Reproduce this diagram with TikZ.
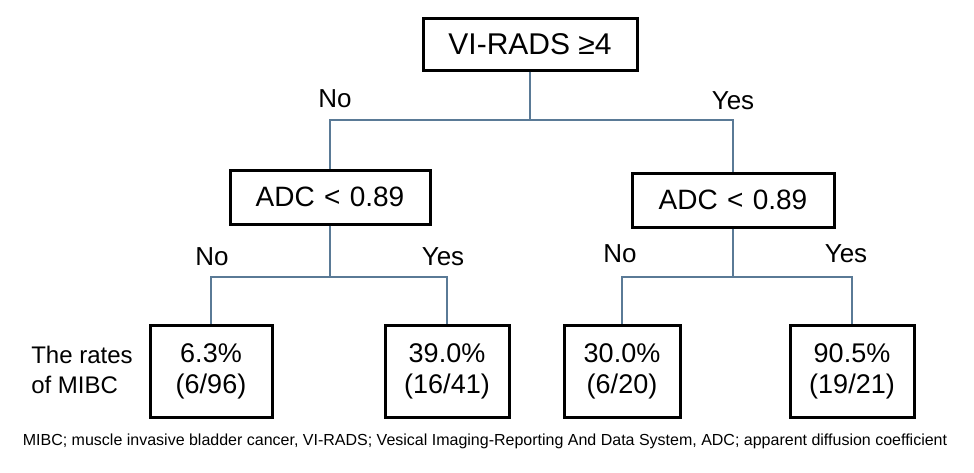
\documentclass[tikz,border=0pt]{standalone}
\usepackage{fontspec}
\setmainfont{Liberation Sans}
\begin{document}
\begin{tikzpicture}[x=1pt,y=-1pt,
  boxn/.style={draw=black,line width=3pt,inner sep=0pt,fill=white,align=center,font=\fontsize{27}{31}\selectfont},
  conn/.style={draw={rgb,255:red,90;green,122;blue,150},line width=1.8pt},
  lab/.style={font=\fontsize{26}{30}\selectfont}]
\useasboundingbox (0,0) rectangle (974,472);
\node[boxn,minimum width=214pt,minimum height=52pt,font=\fontsize{30}{34}\selectfont] (top) at (530,44) {VI-RADS ≥4};
\node[boxn,minimum width=200pt,minimum height=54pt,font=\fontsize{28}{32}\selectfont] (l) at (330,197) {ADC\,\,<\,\,0.89};
\node[boxn,minimum width=202pt,minimum height=54pt,font=\fontsize{28}{32}\selectfont] (r) at (733,200) {ADC\,\,<\,\,0.89};
\node[boxn,minimum width=122pt,minimum height=92pt] (b1) at (211,371) {6.3\%\\(6/96)};
\node[boxn,minimum width=124pt,minimum height=92pt] (b2) at (447,371) {39.0\%\\(16/41)};
\node[boxn,minimum width=116pt,minimum height=92pt] (b3) at (622,371) {30.0\%\\(6/20)};
\node[boxn,minimum width=124pt,minimum height=92pt] (b4) at (852,371) {90.5\%\\(19/21)};
\coordinate (j0) at (530,120);
\coordinate (j1) at (330,277);
\coordinate (j2) at (733,277);
\draw[conn] (top.south) -- (j0);
\draw[conn] (l.north) -- (330,120) -- (733,120) -- (r.north);
\draw[conn] (l.south) -- (j1);
\draw[conn] (b1.north) -- (211,277) -- (447,277) -- (b2.north);
\draw[conn] (r.south) -- (j2);
\draw[conn] (b3.north) -- (622,277) -- (852,277) -- (b4.north);
\node[lab] (n1) at (335,99) {No};
\node[lab] (y1) at (733,101) {Yes};
\node[lab] (n2) at (212,257) {No};
\node[lab] (y2) at (443,257) {Yes};
\node[lab] (n3) at (620,254) {No};
\node[lab] (y3) at (846,254) {Yes};
\node[align=left,font=\fontsize{24}{30}\selectfont] (rt) at (82,370) {The rates\\of MIBC};
\node[font=\fontsize{16}{18}\selectfont] (ft) at (485,441) {MIBC; muscle invasive bladder cancer, VI-RADS; Vesical Imaging-Reporting And Data System, ADC; apparent diffusion coefficient};
\end{tikzpicture}
\end{document}
